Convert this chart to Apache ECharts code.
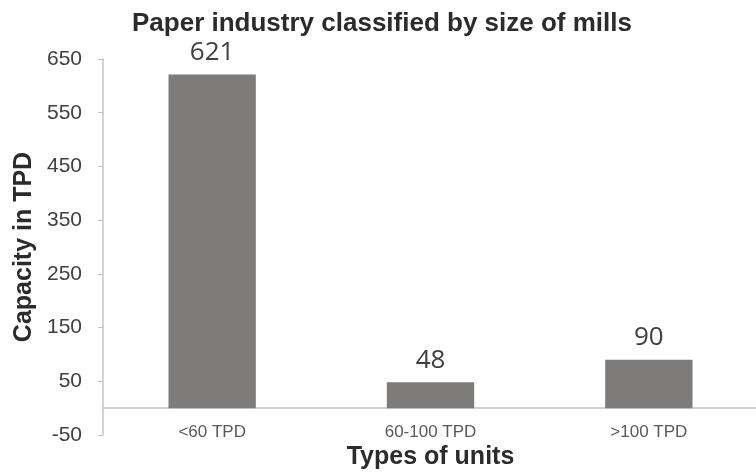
<!DOCTYPE html>
<html>
<head>
<meta charset="utf-8">
<script src="https://cdn.jsdelivr.net/npm/echarts@6/dist/echarts.min.js"></script>
<style>
  html, body { margin: 0; padding: 0; background: #fff; }
  #chart { width: 756px; height: 472px; }
</style>
</head>
<body>
<div id="chart"></div>
<script>
// data
const categories = ['<60 TPD', '60-100 TPD', '>100 TPD'];
const capacity = [621, 48, 90];
const yTicks = { min: -50, max: 650, step: 100 };

const chart = echarts.init(document.getElementById('chart'));
const font = '"Liberation Sans", Arial, sans-serif';

const option = {
  animation: false,
  title: {
    text: 'Paper industry classified by size of mills',
    left: 132,
    top: 6,
    padding: [5, 0, 5, 0],
    textStyle: { fontFamily: font, fontSize: 26, fontWeight: 'bold', color: '#2b2b2b' }
  },
  grid: { left: 103, right: -2, top: 59, bottom: 37, outerBoundsMode: 'none' },
  xAxis: {
    type: 'category',
    data: categories,
    name: 'Types of units',
    nameLocation: 'middle',
    nameGap: 10,
    nameMoveOverlap: false,
    nameTextStyle: { fontFamily: font, fontSize: 25, fontWeight: 'bold', color: '#2b2b2b', verticalAlign: 'top' },
    axisLine: { onZero: true, lineStyle: { color: '#c4c4c4', width: 1.5 } },
    axisTick: { show: false },
    axisLabel: { fontFamily: font, fontSize: 17, color: '#595959', margin: -11 }
  },
  yAxis: {
    type: 'value',
    min: yTicks.min,
    max: yTicks.max,
    interval: yTicks.step,
    name: 'Capacity in TPD',
    nameLocation: 'middle',
    nameGap: 66,
    nameMoveOverlap: false,
    nameTextStyle: { fontFamily: font, fontSize: 25, fontWeight: 'bold', color: '#2b2b2b' },
    axisLine: { show: true, lineStyle: { color: '#c4c4c4', width: 1.5 } },
    axisTick: { show: true, length: 5, lineStyle: { color: '#c4c4c4' } },
    splitLine: { show: false },
    axisLabel: { fontFamily: font, fontSize: 21, color: '#404040', margin: 21 }
  },
  series: [{
    type: 'bar',
    data: capacity,
    barWidth: '40%',
    itemStyle: { color: '#7d7c7a' },
    label: {
      show: true,
      position: 'top',
      distance: 9,
      fontFamily: '"Open Sans", sans-serif',
      fontSize: 26,
      color: '#404040'
    }
  }]
};

chart.setOption(option);
</script>
</body>
</html>
